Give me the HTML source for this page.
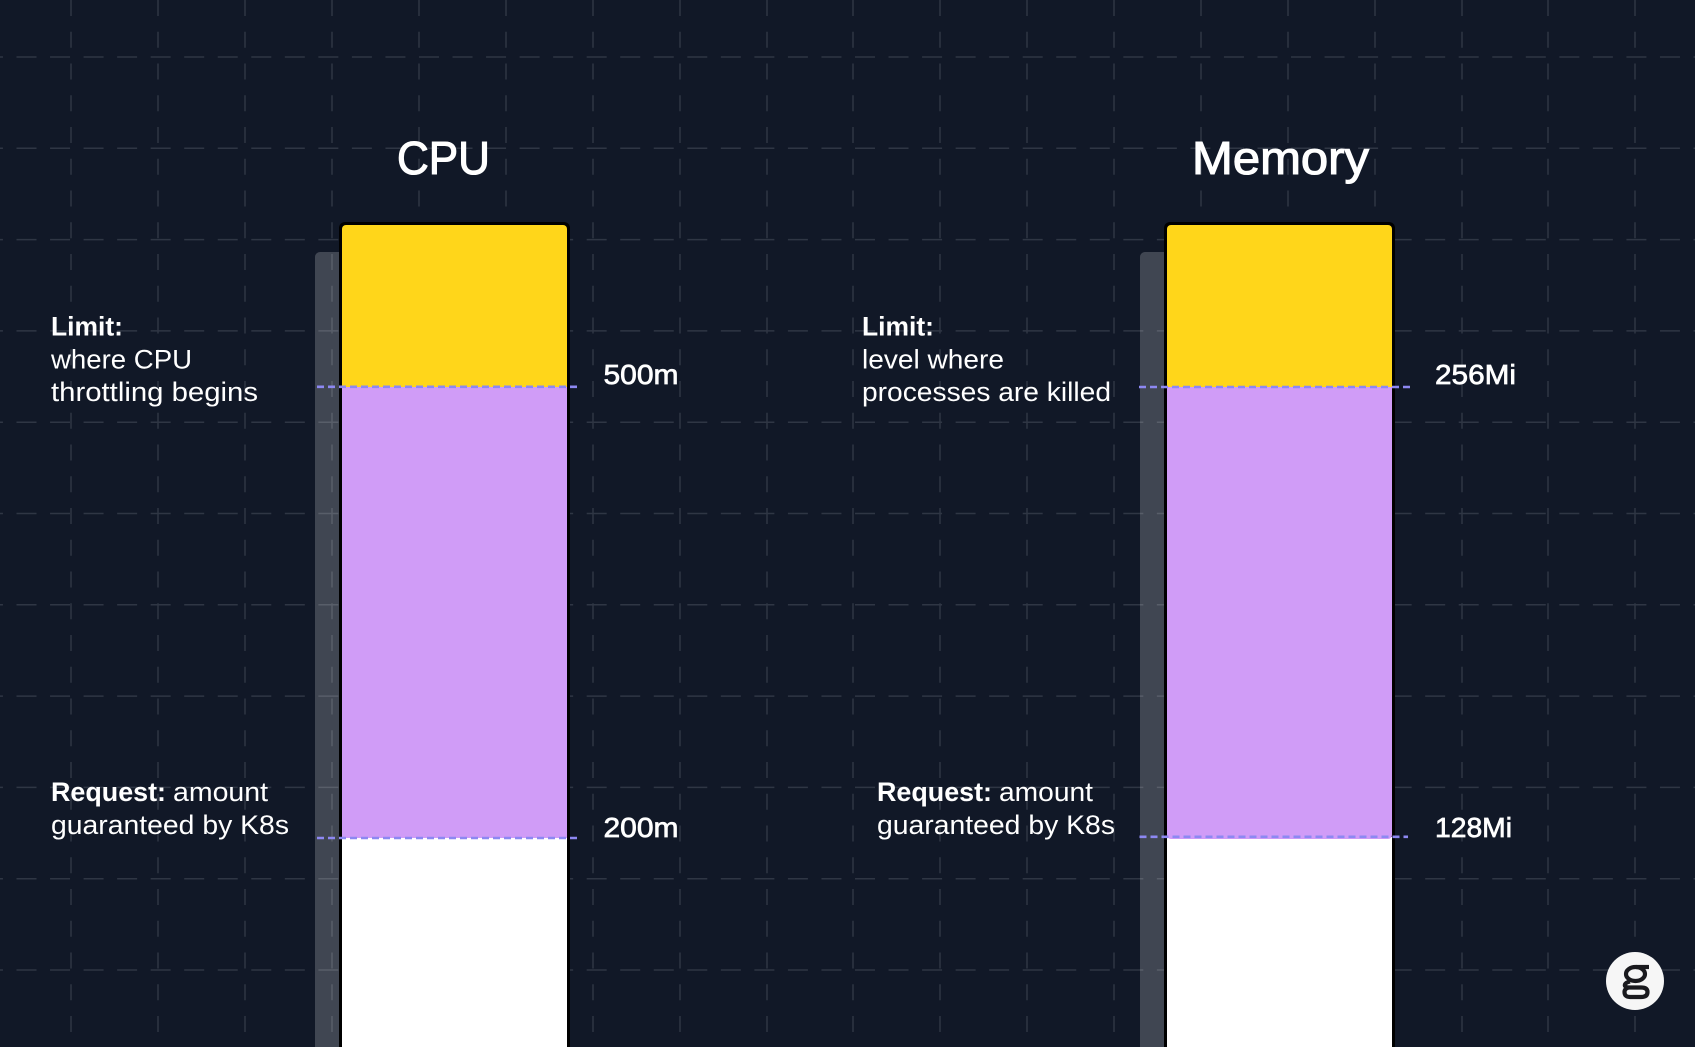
<!DOCTYPE html>
<html lang="en">
<head>
<meta charset="utf-8">
<title>CPU and Memory requests and limits</title>
<style>
html,body{margin:0;padding:0;background:#111827;width:1695px;height:1047px;overflow:hidden}
svg{display:block}
text{font-family:"Liberation Sans",sans-serif;fill:#fff}
.t{font-size:46.5px;stroke:#fff;stroke-width:1.1px}
.l{font-size:27px}
.b{font-size:27px;font-weight:700}
.v{font-size:28px;stroke:#fff;stroke-width:.7px}
</style>
</head>
<body>
<svg width="1695" height="1047" viewBox="0 0 1695 1047" xmlns="http://www.w3.org/2000/svg">
<rect width="1695" height="1047" fill="#111827"/>
<g stroke="#2f3644" stroke-width="1.5" fill="none" stroke-dasharray="16 15.75">
<path d="M71 0V1047M158 0V1047M245 0V1047M332 0V1047M419 0V1047M506 0V1047M593 0V1047M680 0V1047M767 0V1047M853 0V1047M940 0V1047M1027 0V1047M1114 0V1047M1201 0V1047M1288 0V1047M1375 0V1047M1462 0V1047M1548 0V1047M1635 0V1047"/>
</g>
<g stroke="#2f3644" stroke-width="1.5" fill="none" stroke-dasharray="20 13.54" stroke-dashoffset="17.04">
<path d="M0 57H1695M0 148.3H1695M0 239.6H1695M0 330.9H1695M0 422.2H1695M0 513.5H1695M0 604.8H1695M0 696.1H1695M0 787.4H1695M0 878.7H1695M0 970H1695"/>
</g>

<!-- CPU column -->
<path d="M315 1047V257a5 5 0 0 1 5-5H342V1047Z" fill="#fff" fill-opacity=".2"/>
<rect x="339" y="222" width="231" height="840" rx="6" fill="#000"/>
<path d="M342 387V229a4 4 0 0 1 4-4H563a4 4 0 0 1 4 4V387Z" fill="#ffd61a"/>
<rect x="342" y="387" width="225" height="451" fill="#d09cf7"/>
<rect x="342" y="838" width="225" height="209" fill="#fff"/>
<line x1="317" y1="386.8" x2="579" y2="386.8" stroke="#8d88f2" stroke-width="2.6" stroke-dasharray="7 4"/>
<line x1="317" y1="838" x2="577" y2="838" stroke="#8d88f2" stroke-width="2.6" stroke-dasharray="7 4"/>

<!-- Memory column -->
<path d="M1140 1047V257a5 5 0 0 1 5-5H1167V1047Z" fill="#fff" fill-opacity=".2"/>
<rect x="1164" y="222" width="231" height="840" rx="6" fill="#000"/>
<path d="M1167 387V229a4 4 0 0 1 4-4H1388a4 4 0 0 1 4 4V387Z" fill="#ffd61a"/>
<rect x="1167" y="837" width="225" height="210" fill="#fff"/>
<path d="M1167 387H1392V835a4 4 0 0 1-4 4H1171a4 4 0 0 1-4-4Z" fill="#d09cf7"/>
<line x1="1139" y1="387" x2="1412" y2="387" stroke="#8d88f2" stroke-width="2.6" stroke-dasharray="7 4"/>
<line x1="1139.5" y1="836.8" x2="1408" y2="836.8" stroke="#8d88f2" stroke-width="2.6" stroke-dasharray="7 4"/>

<!-- Titles -->
<text class="t" x="397" y="174" textLength="93" lengthAdjust="spacingAndGlyphs">CPU</text>
<text class="t" x="1192" y="174" textLength="177" lengthAdjust="spacingAndGlyphs">Memory</text>

<!-- CPU labels -->
<text class="b" x="51" y="335.5" textLength="72" lengthAdjust="spacingAndGlyphs">Limit:</text>
<text class="l" x="51" y="368.5" textLength="141" lengthAdjust="spacingAndGlyphs">where CPU</text>
<text class="l" x="51" y="401" textLength="207" lengthAdjust="spacingAndGlyphs">throttling begins</text>
<text class="v" x="603.5" y="384" textLength="75" lengthAdjust="spacingAndGlyphs">500m</text>
<text class="b" x="51" y="801" textLength="115" lengthAdjust="spacingAndGlyphs">Request:</text>
<text class="l" x="173" y="801" textLength="95" lengthAdjust="spacingAndGlyphs">amount</text>
<text class="l" x="51" y="834" textLength="238" lengthAdjust="spacingAndGlyphs">guaranteed by K8s</text>
<text class="v" x="603.5" y="837" textLength="75" lengthAdjust="spacingAndGlyphs">200m</text>

<!-- Memory labels -->
<text class="b" x="862" y="335.5" textLength="72" lengthAdjust="spacingAndGlyphs">Limit:</text>
<text class="l" x="862" y="368.5" textLength="142" lengthAdjust="spacingAndGlyphs">level where</text>
<text class="l" x="862" y="401" textLength="249" lengthAdjust="spacingAndGlyphs">processes are killed</text>
<text class="v" x="1435" y="384" textLength="81" lengthAdjust="spacingAndGlyphs">256Mi</text>
<text class="b" x="877" y="801" textLength="115" lengthAdjust="spacingAndGlyphs">Request:</text>
<text class="l" x="999" y="801" textLength="94" lengthAdjust="spacingAndGlyphs">amount</text>
<text class="l" x="877" y="834" textLength="238" lengthAdjust="spacingAndGlyphs">guaranteed by K8s</text>
<text class="v" x="1435" y="837" textLength="77" lengthAdjust="spacingAndGlyphs">128Mi</text>

<!-- Logo mark -->
<circle cx="1635" cy="981" r="29" fill="#f6f6f6"/>
<g fill="none" stroke="#1a1a1e" stroke-width="4.2">
<ellipse cx="1635.5" cy="974" rx="9.5" ry="7"/>
<path d="M1636 967H1649"/>
<path d="M1630 981.5Q1624 983 1625 986Q1626 987.5 1630 987.5H1641Q1647.5 987.5 1647.5 992Q1647.5 997 1641 997H1630Q1624.5 997 1624.5 992Q1624.5 988.5 1629 987.5"/>
</g>
</svg>
</body>
</html>
